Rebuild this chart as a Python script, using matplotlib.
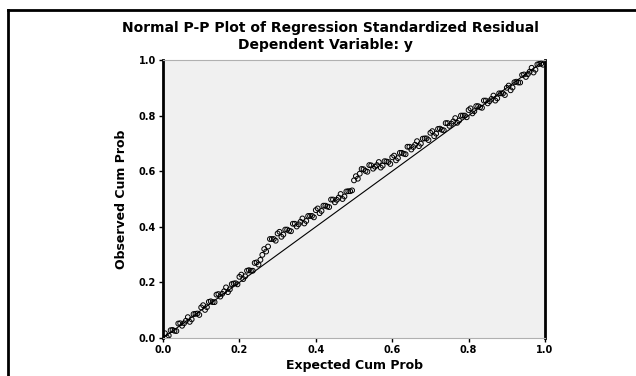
import matplotlib
matplotlib.use("Agg")
import matplotlib.pyplot as plt
from matplotlib.lines import Line2D

plt.rcParams['font.family'] = ['DejaVu Sans']

# expected vs observed cumulative probability
expected = [0.005, 0.015, 0.025, 0.035, 0.045, 0.055, 0.065, 0.075, 0.085, 0.095,
            0.105, 0.115, 0.125, 0.135, 0.145, 0.155, 0.165, 0.175, 0.185, 0.195,
            0.205, 0.215, 0.225, 0.235, 0.245, 0.255, 0.265, 0.275, 0.285, 0.295,
            0.305, 0.315, 0.325, 0.335, 0.345, 0.355, 0.365, 0.375, 0.385, 0.395,
            0.405, 0.415, 0.425, 0.435, 0.445, 0.455, 0.465, 0.475, 0.485, 0.495,
            0.505, 0.515, 0.525, 0.535, 0.545, 0.555, 0.565, 0.575, 0.585, 0.595,
            0.605, 0.615, 0.625, 0.635, 0.645, 0.655, 0.665, 0.675, 0.685, 0.695,
            0.705, 0.715, 0.725, 0.735, 0.745, 0.755, 0.765, 0.775, 0.785, 0.795,
            0.805, 0.815, 0.825, 0.835, 0.845, 0.855, 0.865, 0.875, 0.885, 0.895,
            0.905, 0.915, 0.925, 0.935, 0.945, 0.955, 0.965, 0.975, 0.985, 0.995,
            0.01, 0.02, 0.03, 0.04, 0.05, 0.06, 0.07, 0.08, 0.09, 0.10,
            0.11, 0.12, 0.13, 0.14, 0.15, 0.16, 0.17, 0.18, 0.19, 0.20,
            0.21, 0.22, 0.23, 0.24, 0.25, 0.26, 0.27, 0.28, 0.29, 0.30,
            0.31, 0.32, 0.33, 0.34, 0.35, 0.36, 0.37, 0.38, 0.39, 0.40,
            0.41, 0.42, 0.43, 0.44, 0.45, 0.46, 0.47, 0.48, 0.49, 0.50,
            0.51, 0.52, 0.53, 0.54, 0.55, 0.56, 0.57, 0.58, 0.59, 0.60,
            0.61, 0.62, 0.63, 0.64, 0.65, 0.66, 0.67, 0.68, 0.69, 0.70,
            0.71, 0.72, 0.73, 0.74, 0.75, 0.76, 0.77, 0.78, 0.79, 0.80,
            0.81, 0.82, 0.83, 0.84, 0.85, 0.86, 0.87, 0.88, 0.89, 0.90,
            0.91, 0.92, 0.93, 0.94, 0.95, 0.96, 0.97, 0.98, 0.99]
observed = [0.017, 0.009, 0.029, 0.025, 0.053, 0.053, 0.075, 0.067, 0.087, 0.083,
            0.118, 0.111, 0.132, 0.129, 0.158, 0.159, 0.182, 0.175, 0.196, 0.193,
            0.228, 0.222, 0.244, 0.242, 0.272, 0.281, 0.320, 0.329, 0.356, 0.350,
            0.382, 0.372, 0.390, 0.384, 0.411, 0.409, 0.430, 0.421, 0.439, 0.434,
            0.466, 0.457, 0.476, 0.471, 0.498, 0.497, 0.518, 0.509, 0.528, 0.531,
            0.582, 0.591, 0.607, 0.598, 0.621, 0.616, 0.633, 0.620, 0.635, 0.626,
            0.656, 0.647, 0.666, 0.661, 0.688, 0.687, 0.708, 0.699, 0.718, 0.712,
            0.744, 0.735, 0.753, 0.747, 0.773, 0.771, 0.791, 0.782, 0.800, 0.794,
            0.826, 0.816, 0.834, 0.828, 0.854, 0.852, 0.872, 0.862, 0.880, 0.874,
            0.908, 0.901, 0.922, 0.919, 0.948, 0.949, 0.972, 0.965, 0.986, 0.983,
            0.002, 0.028, 0.026, 0.052, 0.044, 0.062, 0.058, 0.086, 0.088, 0.110,
            0.101, 0.130, 0.129, 0.156, 0.149, 0.168, 0.165, 0.194, 0.197, 0.220,
            0.212, 0.242, 0.242, 0.270, 0.264, 0.299, 0.311, 0.356, 0.356, 0.376,
            0.364, 0.390, 0.386, 0.411, 0.401, 0.418, 0.412, 0.439, 0.439, 0.460,
            0.449, 0.476, 0.473, 0.498, 0.488, 0.505, 0.500, 0.527, 0.528, 0.567,
            0.573, 0.608, 0.601, 0.622, 0.609, 0.622, 0.613, 0.636, 0.633, 0.650,
            0.639, 0.666, 0.663, 0.688, 0.678, 0.695, 0.690, 0.717, 0.718, 0.738,
            0.726, 0.752, 0.749, 0.773, 0.763, 0.779, 0.774, 0.800, 0.800, 0.820,
            0.808, 0.834, 0.830, 0.854, 0.844, 0.860, 0.854, 0.880, 0.880, 0.900,
            0.891, 0.920, 0.919, 0.946, 0.939, 0.958, 0.955, 0.984, 0.987]
ticks = [0.0, 0.2, 0.4, 0.6, 0.8, 1.0]
tick_labels = ["0.0", "0.2", "0.4", "0.6", "0.8", "1.0"]

fig = plt.figure(figsize=(6.36, 3.76), dpi=100)
ax = fig.add_axes([163 / 636, 1 - 338 / 376, 382 / 636, 278 / 376])
ax.set_facecolor("#f0f0f0")

# reference diagonal
ax.plot([0, 1], [0, 1], color="black", lw=0.8)
ax.scatter(expected, observed, s=12, facecolors="none", edgecolors="black",
           linewidths=0.7, zorder=3)

ax.set_xlim(0, 1)
ax.set_ylim(0, 1)
ax.set_xticks(ticks)
ax.set_xticklabels(tick_labels)
ax.set_yticks(ticks)
ax.set_yticklabels(tick_labels)
ax.tick_params(labelsize=7, length=3, width=1, pad=2)
for lbl in ax.get_xticklabels() + ax.get_yticklabels():
    lbl.set_fontweight("bold")

for side in ["left", "right"]:
    ax.spines[side].set_linewidth(2)
    ax.spines[side].set_color("black")
for side in ["top", "bottom"]:
    ax.spines[side].set_linewidth(0.8)
    ax.spines[side].set_color("#b0b0b0")

ax.set_xlabel("Expected Cum Prob", fontsize=9, fontweight="bold", labelpad=3)
ax.set_ylabel("Observed Cum Prob", fontsize=9, fontweight="bold", labelpad=8)

fig.text(330 / 636, 1 - 28 / 376, "Normal P-P Plot of Regression Standardized Residual",
         ha="center", va="center", fontsize=10, fontweight="bold")
fig.text(325 / 636, 1 - 45 / 376, "Dependent Variable: y",
         ha="center", va="center", fontsize=10, fontweight="bold")

# outer frame (top and left edges)
fig.add_artist(Line2D([8 / 636, 1.0], [1 - 10 / 376, 1 - 10 / 376],
                      transform=fig.transFigure, color="black", lw=2))
fig.add_artist(Line2D([8 / 636, 8 / 636], [0.0, 1 - 10 / 376],
                      transform=fig.transFigure, color="black", lw=2))

fig.savefig("out.png", dpi=100)
